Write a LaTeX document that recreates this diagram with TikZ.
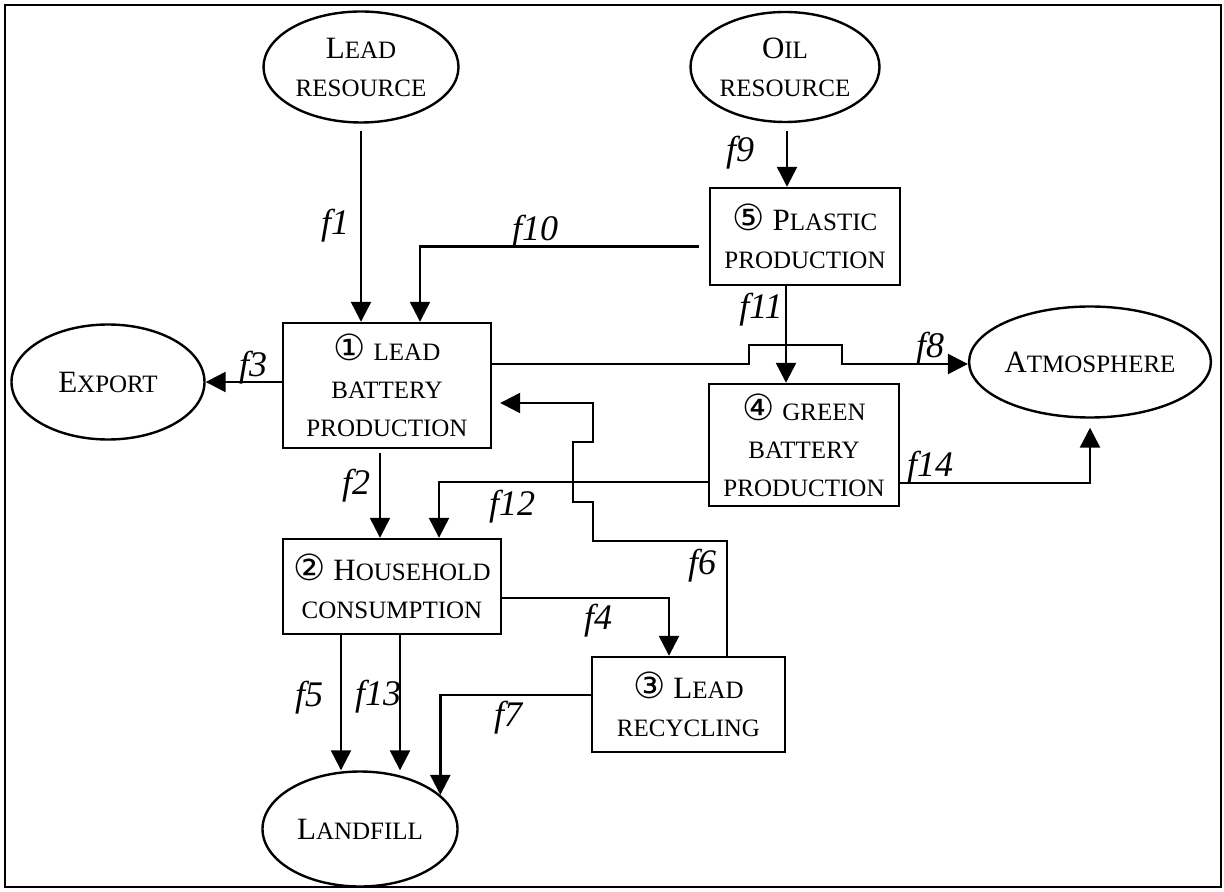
\documentclass[tikz,border=0pt]{standalone}
\usepackage{fontspec}
\setmainfont{Liberation Serif}
\newfontfamily\circfont{DejaVu Sans}
\usetikzlibrary{shapes.geometric, arrows.meta}
\newcommand{\smc}[1]{{\fontsize{12.5}{19}\selectfont #1}}
\newcommand{\cnum}[1]{{\circfont\fontsize{18}{19}\selectfont #1}}

\begin{document}
\begin{tikzpicture}[x=0.5pt, y=-0.5pt, >={Triangle[length=10pt,width=10pt]},
  every node/.style={font=\fontsize{15.5}{19}\selectfont, align=center, inner sep=0pt},
  stock/.style={draw, ellipse, line width=1.2pt},
  proc/.style={draw, rectangle, line width=1.2pt},
  flow/.style={->, line width=1.2pt},
  lbl/.style={font=\fontsize{18}{18}\selectfont\itshape}]
  \useasboundingbox (0,0) rectangle (1224,892);
  \draw[line width=1.2pt] (5,5) rectangle (1221,887);

  % stocks
  \node[stock, minimum width=97.5pt, minimum height=55.5pt] (leadres) at (361,67) {L\smc{EAD}\\\smc{RESOURCE}};
  \node[stock, minimum width=94.5pt, minimum height=55pt] (oilres) at (785,67) {O\smc{IL}\\\smc{RESOURCE}};
  \node[stock, minimum width=96.5pt, minimum height=57.5pt] (export) at (108,382) {E\smc{XPORT}};
  \node[stock, minimum width=94pt, minimum height=55.5pt] (atmos) at (1090,362) {A\smc{TMOSPHERE}};
  \node[stock, minimum width=97.5pt, minimum height=57.5pt] (landfill) at (360,829) {L\smc{ANDFILL}};

  % processes
  \node[proc, minimum width=104pt, minimum height=62.5pt] (lbp) at (387,385.5) {\cnum{①} \smc{LEAD}\\\smc{BATTERY}\\\smc{PRODUCTION}};
  \node[proc, minimum width=95pt, minimum height=48.5pt] (plastic) at (805,236.5) {\cnum{⑤} P\smc{LASTIC}\\\smc{PRODUCTION}};
  \node[proc, minimum width=95pt, minimum height=61pt] (green) at (804,445) {\cnum{④} \smc{GREEN}\\\smc{BATTERY}\\\smc{PRODUCTION}};
  \node[proc, minimum width=109pt, minimum height=47.5pt] (household) at (392,586.5) {\cnum{②} H\smc{OUSEHOLD}\\\smc{CONSUMPTION}};
  \node[proc, minimum width=96.5pt, minimum height=47.5pt] (recycling) at (688.5,704.5) {\cnum{③} L\smc{EAD}\\\smc{RECYCLING}};

  % flows
  \draw[flow] ([yshift=-3.5pt]leadres.south) -- (leadres.south |- lbp.north);
  \draw[flow] ([xshift=1pt,yshift=-4pt]oilres.south) -- ([xshift=1pt]oilres.south |- plastic.north);
  \draw[flow] ([xshift=-5pt,yshift=-5pt]plastic.west) -| ([xshift=16.5pt]lbp.north);
  \draw[flow] ([xshift=-9.5pt]plastic.south) -- ([xshift=-9.5pt]plastic.south |- green.north);
  \coordinate (hopL) at (749,364);
  \coordinate (hopR) at (842,364);
  \draw[flow] ([yshift=10.75pt]lbp.east) -- (hopL) -- ++(0,-19) -| (hopR) -- (hopR -| atmos.west);
  \draw[flow] ([yshift=1.75pt]lbp.west) -- (export.east);
  \draw[flow] ([xshift=-3.5pt,yshift=-2pt]lbp.south) -- ([xshift=-3.5pt]lbp.south |- household.north);
  \draw[flow] ([yshift=-18.5pt]green.west) -| ([xshift=23.5pt]household.north);
  \draw[flow, shorten >=4.5pt] ([yshift=-19pt]green.east) -| (atmos.south);
  \draw[flow, shorten >=4pt] ([xshift=19.25pt]recycling.north) -- ++(0,-115) -- ++(-134,0) -- ++(0,-39)
    -- ++(-20,0) -- ++(0,-60) -- ++(20,0) |- ([yshift=-8.75pt]lbp.east);
  \draw[flow] ([yshift=-5.75pt]household.east) -| ([xshift=-9.75pt]recycling.north);
  \draw[flow] ([xshift=-25.5pt]household.south) -- ([xshift=-25.5pt]household.south |- landfill.north);
  \draw[flow] ([xshift=4pt]household.south) -- ([xshift=4pt]household.south |- landfill.north);
  \draw[flow] ([yshift=4.75pt]recycling.west) -| (landfill.23);

  % flow labels
  \node[lbl] (lf1) at (335,226) {f1};
  \node[lbl] (lf2) at (356,486) {f2};
  \node[lbl] (lf3) at (253,368) {f3};
  \node[lbl] (lf4) at (598,621) {f4};
  \node[lbl] (lf5) at (309,698) {f5};
  \node[lbl] (lf6) at (702,566) {f6};
  \node[lbl] (lf7) at (508,718) {f7};
  \node[lbl] (lf8) at (930,349) {f8};
  \node[lbl] (lf9) at (740,153) {f9};
  \node[lbl] (lf10) at (535,232) {f10};
  \node[lbl] (lf11) at (761,310) {f11};
  \node[lbl] (lf12) at (512,507) {f12};
  \node[lbl] (lf13) at (378,697) {f13};
  \node[lbl] (lf14) at (930,468) {f14};
\end{tikzpicture}
\end{document}
